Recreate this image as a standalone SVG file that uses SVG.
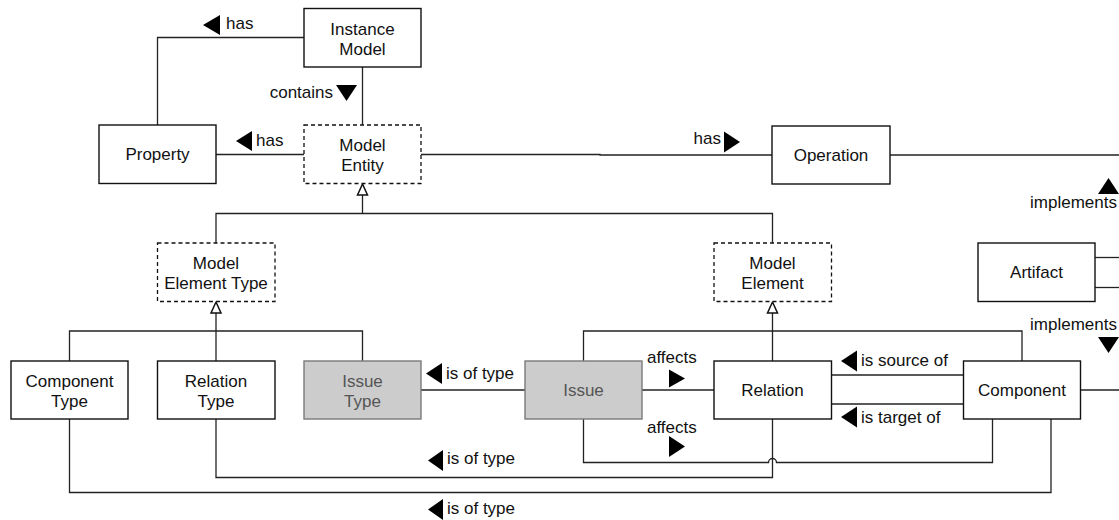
<svg xmlns="http://www.w3.org/2000/svg" width="1119" height="520" viewBox="0 0 1119 520">
  <style>
    text { font-family: "Liberation Sans", Arial, sans-serif; font-size: 17px; fill: #111; }
    .node { fill: #fff; stroke: #111; stroke-width: 1.4; }
    .abstract { fill: #fff; stroke: #111; stroke-width: 1.3; stroke-dasharray: 4 3; }
    .issue { fill: #cccccc; stroke: #7a7a7a; stroke-width: 1.4; }
    .issue-text { fill: #555; }
    .mid { text-anchor: middle; }
    .end { text-anchor: end; }
    .edge { fill: none; stroke: #222; stroke-width: 1.3; }
    .gen { fill: #fff; stroke: #111; stroke-width: 1.5; }
    .dir { fill: #000; }
  </style>

  <!-- connectors -->
  <g id="connectors">
    <!-- Instance Model has Property -->
    <path class="edge" d="M304 37.5 H157.5 V125"/>
    <!-- Instance Model contains Model Entity -->
    <path class="edge" d="M362.5 67 V125"/>
    <!-- Model Entity has Property -->
    <path class="edge" d="M216 154.5 H304"/>
    <!-- Model Entity has Operation -->
    <path class="edge" d="M421 154.5 H600 V155 H772"/>
    <!-- Operation / Artifact / Component lines leaving to the right -->
    <path class="edge" d="M890 155 H1119"/>
    <path class="edge" d="M1095 257.5 H1119"/>
    <path class="edge" d="M1095 287.5 H1119"/>
    <path class="edge" d="M1080.5 390 H1119"/>

    <!-- generalisation: Model Entity -->
    <path class="edge" d="M362.5 195 V213.5 M216 243 V213.5 H772.5 V243"/>
    <polygon class="gen" points="362.5,184 357.5,195 367.5,195"/>

    <!-- generalisation: Model Element Type -->
    <path class="edge" d="M216 313 V331 M69.5 361 V331 H362.5 V361 M216 331 V361"/>
    <polygon class="gen" points="216,302 211,313 221,313"/>

    <!-- generalisation: Model Element -->
    <path class="edge" d="M772.5 313 V361 M583.5 361 V331 H1022 V361"/>
    <polygon class="gen" points="772.5,302 767.5,313 777.5,313"/>

    <!-- Issue is of type Issue Type -->
    <path class="edge" d="M421 390 H525"/>
    <!-- Issue affects Relation -->
    <path class="edge" d="M642 390 H714"/>
    <!-- Component is source / target of Relation -->
    <path class="edge" d="M831.5 375 H963.5"/>
    <path class="edge" d="M831.5 404 H963.5"/>
    <!-- Issue affects Component (hops over the Relation line) -->
    <path class="edge" d="M583.5 419 V462.5 H768.5 A4 4 0 0 1 776.5 462.5 H992.5 V419"/>
    <!-- Relation is of type Relation Type -->
    <path class="edge" d="M772.5 419 V477.5 H216 V419"/>
    <!-- Component is of type Component Type -->
    <path class="edge" d="M1051 419 V492.5 H69.5 V419"/>
  </g>

  <!-- connector labels -->
  <g id="labels">
    <polygon class="dir" points="203,25 220,15 220,35"/>
    <text x="226" y="29">has</text>

    <text class="end" x="333" y="97.5">contains</text>
    <polygon class="dir" points="336,85 357,85 346.5,101"/>

    <polygon class="dir" points="236,141 252,131 252,151"/>
    <text x="256" y="146">has</text>

    <text class="end" x="721" y="144">has</text>
    <polygon class="dir" points="724,131.5 740,142 724,152.5"/>

    <polygon class="dir" points="1108.5,178 1119,194 1098,194"/>
    <text class="end" x="1117" y="208">implements</text>

    <text class="end" x="1117" y="330">implements</text>
    <polygon class="dir" points="1098,337 1119,337 1108.5,353"/>

    <polygon class="dir" points="426,373.5 442,363 442,384"/>
    <text x="446" y="379">is of type</text>

    <text x="647" y="362.5">affects</text>
    <polygon class="dir" points="669,369.5 685,378.5 669,387.5"/>

    <text x="647" y="433">affects</text>
    <polygon class="dir" points="669,436 685,446.5 669,457"/>

    <polygon class="dir" points="841,361 857,350.5 857,371.5"/>
    <text x="861" y="366">is source of</text>

    <polygon class="dir" points="841,417 857,406.5 857,427.5"/>
    <text x="861" y="423">is target of</text>

    <polygon class="dir" points="428,460.5 443,450 443,471"/>
    <text x="447" y="464">is of type</text>

    <polygon class="dir" points="428,509.5 443,499 443,520"/>
    <text x="447" y="514">is of type</text>
  </g>

  <!-- nodes -->
  <g id="instance-model">
    <rect class="node" x="304" y="8.5" width="117" height="58.5"/>
    <text class="mid" x="362.5" y="34.5">Instance</text>
    <text class="mid" x="362.5" y="55">Model</text>
  </g>
  <g id="property">
    <rect class="node" x="99" y="125" width="117" height="58.5"/>
    <text class="mid" x="157.5" y="160">Property</text>
  </g>
  <g id="model-entity">
    <rect class="abstract" x="304" y="125" width="117" height="58.5"/>
    <text class="mid" x="362.5" y="150.5">Model</text>
    <text class="mid" x="362.5" y="171">Entity</text>
  </g>
  <g id="operation">
    <rect class="node" x="772" y="126" width="118" height="58"/>
    <text class="mid" x="831" y="161">Operation</text>
  </g>
  <g id="artifact">
    <rect class="node" x="978" y="243" width="117" height="58.5"/>
    <text class="mid" x="1036.5" y="278">Artifact</text>
  </g>
  <g id="model-element-type">
    <rect class="abstract" x="157.5" y="243" width="117.5" height="58.5"/>
    <text class="mid" x="216" y="268.5">Model</text>
    <text class="mid" x="216" y="289">Element Type</text>
  </g>
  <g id="model-element">
    <rect class="abstract" x="714" y="243" width="117.5" height="58.5"/>
    <text class="mid" x="772.5" y="268.5">Model</text>
    <text class="mid" x="772.5" y="289">Element</text>
  </g>
  <g id="component-type">
    <rect class="node" x="11" y="361" width="117" height="58"/>
    <text class="mid" x="69.5" y="386.5">Component</text>
    <text class="mid" x="69.5" y="407">Type</text>
  </g>
  <g id="relation-type">
    <rect class="node" x="157.5" y="361" width="117.5" height="58"/>
    <text class="mid" x="216" y="386.5">Relation</text>
    <text class="mid" x="216" y="407">Type</text>
  </g>
  <g id="issue-type">
    <rect class="issue" x="304" y="361" width="117" height="58"/>
    <text class="mid issue-text" x="362.5" y="386.5">Issue</text>
    <text class="mid issue-text" x="362.5" y="407">Type</text>
  </g>
  <g id="issue">
    <rect class="issue" x="525" y="361" width="117" height="58"/>
    <text class="mid issue-text" x="583.5" y="396">Issue</text>
  </g>
  <g id="relation">
    <rect class="node" x="714" y="361" width="117.5" height="58"/>
    <text class="mid" x="772.5" y="396">Relation</text>
  </g>
  <g id="component">
    <rect class="node" x="963.5" y="361" width="117" height="58"/>
    <text class="mid" x="1022" y="396">Component</text>
  </g>
</svg>
